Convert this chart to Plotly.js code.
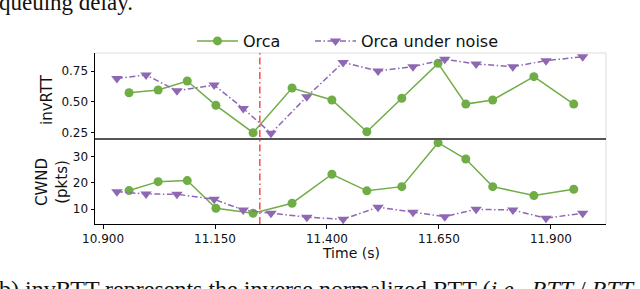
<!DOCTYPE html>
<html>
<head>
<meta charset="utf-8">
<script src="https://cdn.plot.ly/plotly-3.0.1.min.js"></script>
<style>
html,body{margin:0;padding:0;background:#fff;}
#chart{width:640px;height:289px;}
</style>
</head>
<body>
<div id="chart"></div>
<script>
// ---- data ----
const orcaTime = [10.958, 11.023, 11.088, 11.152, 11.235, 11.322, 11.411, 11.489, 11.567, 11.648, 11.710, 11.770, 11.862, 11.951];
const orcaInvRTT = [0.574, 0.596, 0.669, 0.472, 0.250, 0.612, 0.515, 0.258, 0.529, 0.812, 0.482, 0.515, 0.704, 0.482];
const orcaCWND = [17.1, 20.5, 20.9, 10.4, 8.5, 12.3, 23.3, 17.0, 18.6, 35.3, 29.1, 18.6, 15.2, 17.6];

const noiseTime = [10.931, 10.996, 11.065, 11.148, 11.213, 11.275, 11.355, 11.436, 11.514, 11.592, 11.663, 11.733, 11.815, 11.889, 11.971];
const noiseInvRTT = [0.690, 0.718, 0.590, 0.636, 0.447, 0.245, 0.542, 0.820, 0.750, 0.785, 0.845, 0.807, 0.785, 0.834, 0.866];
const noiseCWND = [16.7, 15.8, 15.7, 13.8, 9.7, 8.5, 7.0, 6.2, 10.8, 8.9, 7.2, 10.0, 9.7, 6.6, 8.5];

const eventTime = 11.25;
const xTicks = [10.9, 11.15, 11.4, 11.65, 11.9];
const xTickText = ['10.900', '11.150', '11.400', '11.650', '11.900'];
const invTicks = [0.25, 0.5, 0.75];
const invTickText = ['0.25', '0.50', '0.75'];
const cwndTicks = [10, 20, 30];
const cwndTickText = ['10', '20', '30'];

// ---- style ----
const green = '#70ad47';
const purple = '#8f68b3';
const font = 'DejaVu Sans, sans-serif';
const serif = 'Liberation Serif, Times New Roman, serif';
const split = 85 / 171;

const traces = [
  {x: orcaTime, y: orcaInvRTT, xaxis: 'x', yaxis: 'y', name: 'Orca', mode: 'lines+markers', legend: 'legend',
   line: {color: green, width: 1.5}, marker: {symbol: 'circle', size: 9, color: green}},
  {x: noiseTime, y: noiseInvRTT, xaxis: 'x', yaxis: 'y', name: 'Orca under noise', mode: 'lines+markers', legend: 'legend2',
   line: {color: purple, width: 1.5, dash: '6px,2.5px,1.5px,2.5px'}, marker: {symbol: 'triangle-down', size: 10, color: purple}},
  {x: orcaTime, y: orcaCWND, xaxis: 'x', yaxis: 'y2', name: 'Orca', mode: 'lines+markers', showlegend: false,
   line: {color: green, width: 1.5}, marker: {symbol: 'circle', size: 9, color: green}},
  {x: noiseTime, y: noiseCWND, xaxis: 'x', yaxis: 'y2', name: 'Orca under noise', mode: 'lines+markers', showlegend: false,
   line: {color: purple, width: 1.5, dash: '6px,2.5px,1.5px,2.5px'}, marker: {symbol: 'triangle-down', size: 10, color: purple}}
];

const axisCommon = {
  showgrid: false, zeroline: false, showline: true, linecolor: '#000', linewidth: 1,
  ticks: 'outside', ticklen: 3.5, tickwidth: 1, tickcolor: '#000',
  tickfont: {family: font, size: 12, color: '#111'}
};

const legendCommon = {orientation: 'h', xanchor: 'left', y: 1 + 12 / 171, yanchor: 'middle',
  font: {family: font, size: 16, color: '#111'}, itemwidth: 41, bgcolor: 'rgba(0,0,0,0)'};

const layout = {
  width: 640, height: 289,
  margin: {l: 95, r: 34, t: 53, b: 65},
  paper_bgcolor: '#fff', plot_bgcolor: '#fff',
  showlegend: true,
  legend: Object.assign({}, legendCommon, {x: (192 - 95) / 511}),
  legend2: Object.assign({}, legendCommon, {x: (310 - 95) / 511}),
  xaxis: Object.assign({}, axisCommon, {range: [10.882, 12.023], anchor: 'y2',
           tickvals: xTicks, ticktext: xTickText}),
  yaxis: Object.assign({}, axisCommon, {domain: [split, 1], range: [0.199, 0.896], anchor: 'x',
           tickvals: invTicks, ticktext: invTickText}),
  yaxis2: Object.assign({}, axisCommon, {domain: [0, split], range: [4.4, 36.7], anchor: 'x',
           tickvals: cwndTicks, ticktext: cwndTickText}),
  shapes: [
    {type: 'line', xref: 'paper', yref: 'paper', x0: 0, x1: 1, y0: 1, y1: 1, line: {color: '#dddddd', width: 1}},
    {type: 'line', xref: 'paper', yref: 'paper', x0: 1, x1: 1, y0: 0, y1: 1, line: {color: '#dddddd', width: 1}},
    {type: 'line', xref: 'paper', yref: 'paper', x0: 0, x1: 1, y0: split, y1: split, line: {color: '#555555', width: 2}},
    {type: 'line', xref: 'x', yref: 'paper', x0: eventTime, x1: eventTime, y0: 0, y1: 1,
     line: {color: 'rgba(255,40,40,0.85)', width: 1.5, dash: '7px,3px,1.5px,3px'}}
  ],
  annotations: [
    {text: 'invRTT', xref: 'paper', yref: 'paper', x: (47 - 95) / 511, y: (224 - 100) / 171,
     xanchor: 'center', yanchor: 'middle', textangle: -90, showarrow: false,
     font: {family: font, size: 15, color: '#111'}},
    {text: 'CWND<br>(pkts)', xref: 'paper', yref: 'paper', x: (52 - 95) / 511, y: (224 - 182) / 171,
     xanchor: 'center', yanchor: 'middle', textangle: -90, showarrow: false,
     font: {family: font, size: 15, color: '#111'}},
    {text: 'Time (s)', xref: 'paper', yref: 'paper', x: 0.5, y: (224 - 253) / 171,
     xanchor: 'center', yanchor: 'middle', showarrow: false,
     font: {family: font, size: 14, color: '#111'}},
    {text: 'queuing delay.', xref: 'paper', yref: 'paper', x: (-3 - 95) / 511, y: (224 + 11.5) / 171,
     xanchor: 'left', yanchor: 'top', showarrow: false,
     font: {family: serif, size: 23, color: '#111'}},
    {text: '(b) invRTT represents the inverse normalized RTT (<i>i.e.</i>, <i>RTT</i> / <i>RTT</i>', xref: 'paper', yref: 'paper', x: (-11 - 95) / 511, y: (224 - 274) / 171,
     xanchor: 'left', yanchor: 'top', showarrow: false,
     font: {family: serif, size: 24, color: '#111'}}
  ]
};

Plotly.newPlot('chart', traces, layout, {displayModeBar: false, staticPlot: true});
</script>
</body>
</html>
